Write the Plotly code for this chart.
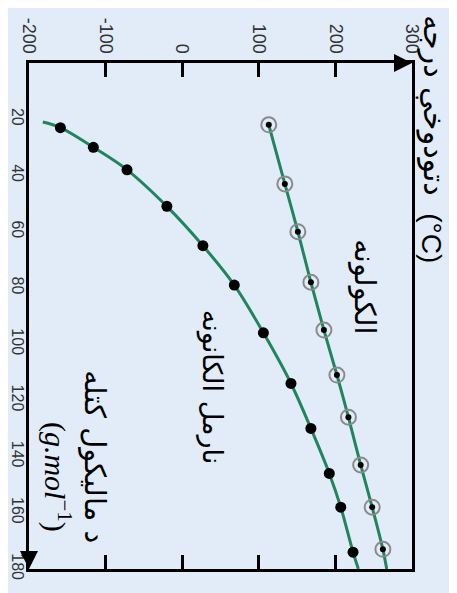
import plotly.graph_objects as go

# Boiling point (°C) against molar mass (g/mol); chart is drawn turned 90 degrees
alkane_temp = [-159, -116, -72, -20, 27, 68, 106, 142, 168, 192, 207, 223]
alkane_mass = [23, 30, 38, 51, 65, 79, 96, 114, 130, 146, 158, 174]

alcohol_temp = [113, 134, 151, 168, 185, 202, 217, 233, 248, 262]
alcohol_mass = [22, 43, 60, 78, 95, 111, 126, 143, 158, 173]

# visible ends of the drawn curves
alkane_curve_start = (-182, 21)
alkane_curve_end = (230, 180)
alcohol_curve_end = (267, 180)

temp_ticks = [-200, -100, 0, 100, 200, 300]
temp_tick_labels = ['-200', '-100', '0', '100', '200', '300']
mass_ticks = [20, 40, 60, 80, 100, 120, 140, 160, 180]

bg = '#e1ecf8'
green = '#20855c'
narrow = 'Liberation Sans Narrow, Arial Narrow, Liberation Sans, Arial'
arab = 'DejaVu Sans, Noto Sans, sans-serif'

alk_x = [alkane_curve_start[0]] + alkane_temp + [alkane_curve_end[0]]
alk_y = [alkane_curve_start[1]] + alkane_mass + [alkane_curve_end[1]]
alc_x = alcohol_temp + [alcohol_curve_end[0]]
alc_y = alcohol_mass + [alcohol_curve_end[1]]

fig = go.Figure()
fig.add_trace(go.Scatter(x=alk_x, y=alk_y, mode='lines',
                         line=dict(color=green, width=3, shape='spline')))
fig.add_trace(go.Scatter(x=alc_x, y=alc_y, mode='lines',
                         line=dict(color=green, width=3, shape='spline')))
fig.add_trace(go.Scatter(x=alkane_temp, y=alkane_mass, mode='markers',
                         marker=dict(color='black', size=11)))
fig.add_trace(go.Scatter(x=alcohol_temp, y=alcohol_mass, mode='markers',
                         marker=dict(color='rgba(0,0,0,0)', size=15,
                                     line=dict(color='#8a8a8a', width=2))))
fig.add_trace(go.Scatter(x=alcohol_temp, y=alcohol_mass, mode='markers',
                         marker=dict(color='black', size=6)))

fig.update_xaxes(range=[-200, 300], side='top', tickvals=temp_ticks,
                 ticktext=temp_tick_labels, tickangle=90, ticks='inside',
                 ticklen=14, tickwidth=2.5, tickcolor='black', showline=True,
                 linewidth=3, linecolor='black', mirror='allticks',
                 showgrid=False, zeroline=False, automargin=False,
                 ticklabelstandoff=0,
                 tickfont=dict(family=narrow, size=18, color='#333'))
fig.update_yaxes(range=[180, 0], tickvals=mass_ticks, tickangle=90,
                 ticks='', showline=True, linewidth=3, linecolor='black',
                 mirror=True, showgrid=False, zeroline=False, automargin=False,
                 ticklabelstandoff=-5,
                 tickfont=dict(family=narrow, size=16, color='#333'))

notes = [
    dict(text='دتودوخې درجه', x=1.052, y=0.915, size=30, font=arab),
    dict(text='(°C)', x=1.052, y=0.654, size=28, font='Liberation Sans, Arial'),
    dict(text='الکولونه', x=0.877, y=0.557, size=29, font=arab),
    dict(text='نارمل الکانونه', x=0.478, y=0.360, size=27, font=arab),
    dict(text='د ماليکول کتله', x=0.172, y=0.221, size=29, font=arab),
    dict(text='(<i>g.mol</i><sup>−1</sup>)', x=0.073, y=0.182, size=30,
         font='Liberation Serif, Times New Roman, serif'),
]
for n in notes:
    fig.add_annotation(text=n['text'], x=n['x'], y=n['y'], xref='paper',
                       yref='paper', xanchor='center', yanchor='middle',
                       showarrow=False, textangle=90,
                       font=dict(family=n['font'], size=n['size'], color='black'))

# arrow heads at the ends of the two axes
fig.add_annotation(x=1.0, y=1.0, xref='paper', yref='paper', ax=-18, ay=0,
                   text='', showarrow=True, arrowhead=2, arrowsize=1.2,
                   arrowwidth=3, arrowcolor='black', standoff=0)
fig.add_annotation(x=0.0, y=0.0, xref='paper', yref='paper', ax=0, ay=-18,
                   text='', showarrow=True, arrowhead=2, arrowsize=1.2,
                   arrowwidth=3, arrowcolor='black', standoff=0)

# the page body adds an 8 px offset, so margins are shifted to compensate
fig.update_layout(width=457, height=593, showlegend=False,
                  paper_bgcolor=bg, plot_bgcolor=bg,
                  margin=dict(l=21, r=53, t=55, b=32))

fig.write_html("out.html")
